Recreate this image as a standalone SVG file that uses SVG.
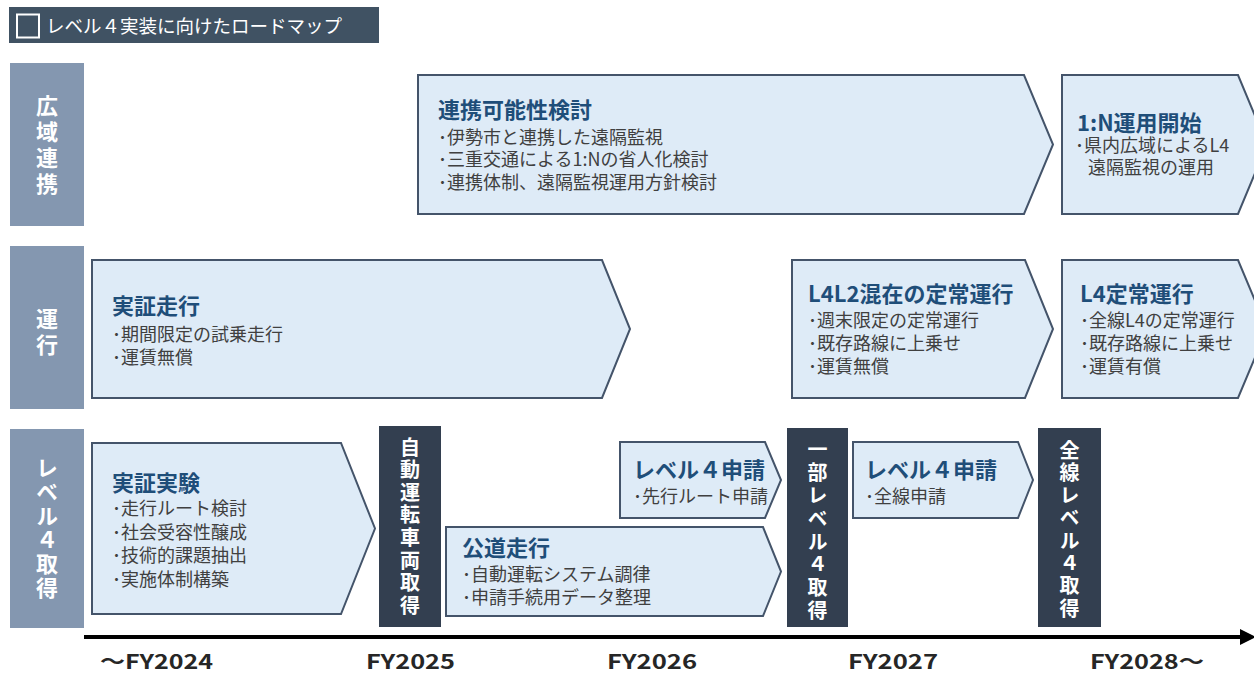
<svg xmlns="http://www.w3.org/2000/svg" width="1254" height="676" viewBox="0 0 1254 676">
<style>
text{font-family:"Noto Sans CJK JP","Noto Sans",sans-serif}
.hdr{fill:#8497B0}
.hdrt{font-size:22px;font-weight:bold;fill:#fff;writing-mode:vertical-rl;text-orientation:upright}
.chev{fill:#DEEBF7;stroke:#44546A;stroke-width:2}
.ttl{font-size:22px;font-weight:bold;fill:#1F4E79}
.bd{font-size:18px;font-weight:normal;fill:#404040}
.dk{fill:#333F50}
.dkt{font-size:20px;font-weight:bold;fill:#fff;writing-mode:vertical-rl;text-orientation:upright}
.yr{font-size:20px;font-weight:bold;fill:#262626}
</style>
<defs>
<marker id="ah" markerWidth="4" markerHeight="4" refX="0" refY="2" orient="auto" markerUnits="strokeWidth">
<path d="M0,0 L4,2 L0,4 Z" fill="#000"/>
</marker>
</defs>
<rect width="1254" height="676" fill="#fff"/>

<g id="title">
<rect x="9" y="7" width="370" height="36" fill="#405263"/>
<rect x="17" y="14.5" width="22" height="23" fill="none" stroke="#fff" stroke-width="2"/>
<text x="46" y="33" font-size="18.5" fill="#fff">レベル４実装に向けたロードマップ</text>
</g>

<g id="hdr-kouiki">
<rect class="hdr" x="10" y="63" width="74" height="163"/>
<text class="hdrt" x="47" y="95" letter-spacing="4">広域連携</text>
</g>
<g id="hdr-unkou">
<rect class="hdr" x="10" y="246" width="74" height="163"/>
<text class="hdrt" x="47" y="308" letter-spacing="4">運行</text>
</g>
<g id="hdr-level4">
<rect class="hdr" x="10" y="429" width="74" height="199"/>
<text class="hdrt" x="47" y="457" letter-spacing="2">レベル４取得</text>
</g>

<g id="renkei-kentou">
<path class="chev" d="M418,75 H1024 L1053,144.5 L1024,214 H418 Z"/>
<text><tspan class="ttl" x="438" y="118">連携可能性検討</tspan><tspan class="bd" x="438" y="144">･伊勢市と連携した遠隔監視</tspan><tspan class="bd" x="438" y="166">･三重交通による1:Nの省人化検討</tspan><tspan class="bd" x="438" y="189">･連携体制、遠隔監視運用方針検討</tspan></text>
</g>
<g id="1n-unyou">
<path class="chev" d="M1062,75 H1238 L1267,144.5 L1238,214 H1062 Z"/>
<text><tspan class="ttl" x="1077" y="131">1:N運用開始</tspan><tspan class="bd" x="1075" y="152">･県内広域によるL4</tspan><tspan class="bd" x="1088" y="174">遠隔監視の運用</tspan></text>
</g>

<g id="jissho-souko">
<path class="chev" d="M92,260 H602 L630,329 L602,398 H92 Z"/>
<text><tspan class="ttl" x="112" y="314">実証走行</tspan><tspan class="bd" x="112" y="341">･期間限定の試乗走行</tspan><tspan class="bd" x="112" y="364">･運賃無償</tspan></text>
</g>
<g id="l4l2">
<path class="chev" d="M792,260 H1025 L1053,329 L1025,398 H792 Z"/>
<text><tspan class="ttl" x="808" y="302">L4L2混在の定常運行</tspan><tspan class="bd" x="808" y="327">･週末限定の定常運行</tspan><tspan class="bd" x="808" y="350">･既存路線に上乗せ</tspan><tspan class="bd" x="808" y="373">･運賃無償</tspan></text>
</g>
<g id="l4-teijou">
<path class="chev" d="M1062,260 H1238 L1267,329 L1238,398 H1062 Z"/>
<text><tspan class="ttl" x="1080" y="302">L4定常運行</tspan><tspan class="bd" x="1080" y="327">･全線L4の定常運行</tspan><tspan class="bd" x="1080" y="350">･既存路線に上乗せ</tspan><tspan class="bd" x="1080" y="373">･運賃有償</tspan></text>
</g>

<g id="jissho-jikken">
<path class="chev" d="M92,443 H341 L375,528.5 L341,614 H92 Z"/>
<text><tspan class="ttl" x="112" y="491">実証実験</tspan><tspan class="bd" x="112" y="515">･走行ルート検討</tspan><tspan class="bd" x="112" y="539">･社会受容性醸成</tspan><tspan class="bd" x="112" y="562">･技術的課題抽出</tspan><tspan class="bd" x="112" y="586">･実施体制構築</tspan></text>
</g>
<g id="sharyo-shutoku">
<rect class="dk" x="379" y="426" width="62" height="201"/>
<text class="dkt" x="410" y="437" letter-spacing="2.6">自動運転車両取得</text>
</g>
<g id="koudou-souko">
<path class="chev" d="M446,527 H763 L781,571.5 L763,616 H446 Z"/>
<text><tspan class="ttl" x="462" y="556">公道走行</tspan><tspan class="bd" x="462" y="581">･自動運転システム調律</tspan><tspan class="bd" x="462" y="604">･申請手続用データ整理</tspan></text>
</g>
<g id="shinsei-1">
<path class="chev" d="M620,442 H765 L781,480 L765,518 H620 Z"/>
<text><tspan class="ttl" x="633" y="478">レベル４申請</tspan><tspan class="bd" x="633" y="503">･先行ルート申請</tspan></text>
</g>
<g id="ichibu-shutoku">
<rect class="dk" x="787" y="428" width="61" height="199"/>
<text class="dkt" x="817.5" y="439" letter-spacing="3">一部レベル４取得</text>
</g>
<g id="shinsei-2">
<path class="chev" d="M853,442 H1018 L1033,480 L1018,518 H853 Z"/>
<text><tspan class="ttl" x="865" y="478">レベル４申請</tspan><tspan class="bd" x="865" y="503">･全線申請</tspan></text>
</g>
<g id="zensen-shutoku">
<rect class="dk" x="1038" y="428" width="63" height="199"/>
<text class="dkt" x="1069.5" y="440" letter-spacing="2.6">全線レベル４取得</text>
</g>

<g id="connectors">
<line x1="84" y1="637" x2="1240" y2="637" stroke="#000" stroke-width="4" marker-end="url(#ah)"/>
</g>

<g id="years">
<text class="yr" x="100" y="669" textLength="113" lengthAdjust="spacingAndGlyphs">～FY2024</text>
<text class="yr" x="366" y="669" textLength="89" lengthAdjust="spacingAndGlyphs">FY2025</text>
<text class="yr" x="607" y="669" textLength="90" lengthAdjust="spacingAndGlyphs">FY2026</text>
<text class="yr" x="848" y="669" textLength="90" lengthAdjust="spacingAndGlyphs">FY2027</text>
<text class="yr" x="1090" y="669" textLength="114" lengthAdjust="spacingAndGlyphs">FY2028～</text>
</g>
</svg>
